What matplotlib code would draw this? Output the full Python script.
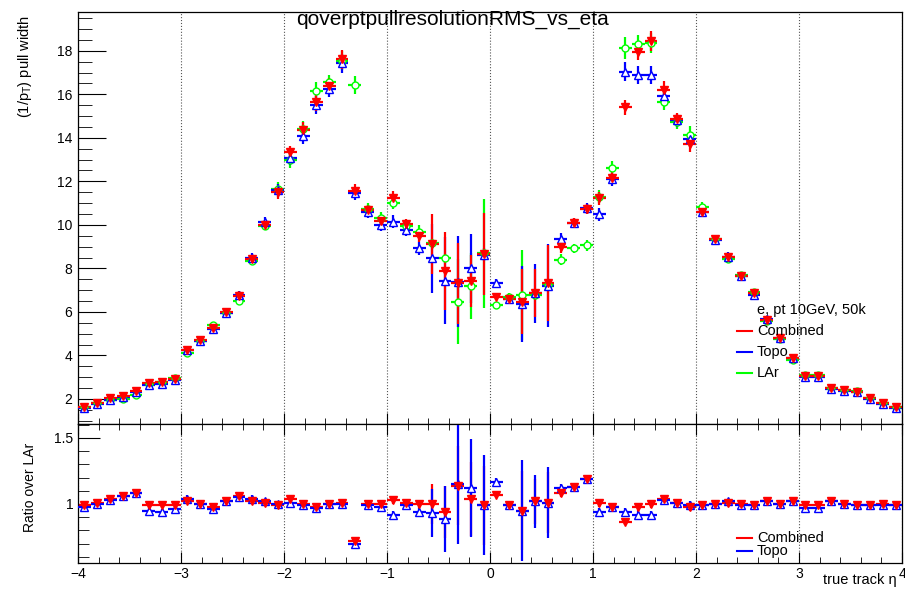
import matplotlib
matplotlib.use("Agg")
import matplotlib.pyplot as plt
from matplotlib.ticker import MultipleLocator, FixedLocator
import numpy as np

plt.rcParams['font.family'] = ['Liberation Sans', 'DejaVu Sans']
plt.rcParams['mathtext.fontset'] = 'custom'
plt.rcParams['mathtext.rm'] = 'Liberation Sans'
plt.rcParams['mathtext.it'] = 'Liberation Sans'

# 64 eta bins from -4 to 4
bin_edges = np.linspace(-4, 4, 65)

combined = [1.65, 1.83, 2.03, 2.15, 2.37, 2.72, 2.80, 2.90,
            4.25, 4.71, 5.25, 6.01, 6.75, 8.43, 9.99, 11.50,
            13.33, 14.36, 15.63, 16.39, 17.60, 11.57, 10.68, 10.18,
            11.25, 10.04, 9.49, 9.12, 7.88, 7.31, 7.43, 8.66,
            6.70, 6.58, 6.47, 6.88, 7.31, 8.97, 10.10, 10.73,
            11.22, 12.17, 15.40, 17.96, 18.46, 16.19, 14.85, 13.70,
            10.60, 9.34, 8.51, 7.66, 6.85, 5.63, 4.79, 3.87,
            3.07, 3.07, 2.52, 2.41, 2.34, 2.06, 1.83, 1.65]
combined_err = [0.06, 0.06, 0.07, 0.07, 0.08, 0.09, 0.09, 0.10,
                0.12, 0.12, 0.15, 0.15, 0.20, 0.20, 0.22, 0.30,
                0.28, 0.35, 0.40, 0.35, 0.45, 0.30, 0.25, 0.25,
                0.30, 0.25, 0.30, 1.40, 1.80, 1.85, 1.20, 1.90,
                0.15, 0.15, 1.50, 1.10, 1.75, 0.25, 0.20, 0.25,
                0.30, 0.30, 0.35, 0.40, 0.45, 0.40, 0.30, 0.35,
                0.25, 0.15, 0.20, 0.15, 0.15, 0.15, 0.12, 0.10,
                0.08, 0.08, 0.07, 0.07, 0.07, 0.06, 0.06, 0.06]

topo = [1.60, 1.78, 1.95, 2.10, 2.30, 2.63, 2.70, 2.85,
        4.27, 4.68, 5.20, 5.97, 6.78, 8.50, 10.15, 11.58,
        13.06, 14.08, 15.50, 16.23, 17.42, 11.45, 10.58, 9.99,
        10.15, 9.76, 8.92, 8.46, 7.43, 7.39, 8.00, 8.63,
        7.34, 6.58, 6.35, 6.85, 7.20, 9.34, 10.10, 10.76,
        10.48, 12.10, 17.04, 16.88, 16.88, 15.92, 14.80, 13.93,
        10.60, 9.32, 8.54, 7.65, 6.78, 5.66, 4.79, 3.87,
        3.03, 3.03, 2.46, 2.37, 2.30, 1.98, 1.78, 1.60]
topo_err = [0.06, 0.06, 0.07, 0.07, 0.08, 0.09, 0.09, 0.10,
            0.12, 0.12, 0.15, 0.15, 0.20, 0.22, 0.22, 0.30,
            0.30, 0.35, 0.40, 0.35, 0.45, 0.30, 0.25, 0.25,
            0.30, 0.25, 0.30, 1.60, 2.00, 2.10, 1.58, 0.30,
            0.15, 0.15, 1.75, 1.35, 1.90, 0.30, 0.20, 0.25,
            0.30, 0.30, 0.45, 0.40, 0.40, 0.40, 0.30, 0.35,
            0.25, 0.15, 0.20, 0.15, 0.15, 0.15, 0.12, 0.10,
            0.08, 0.08, 0.07, 0.07, 0.07, 0.06, 0.06, 0.06]

lar = [1.65, 1.83, 1.95, 2.00, 2.20, 2.70, 2.80, 2.95,
       4.13, 4.68, 5.40, 5.95, 6.52, 8.35, 9.97, 11.65,
       12.98, 14.40, 16.15, 16.55, 17.55, 16.42, 10.75, 10.33,
       11.02, 9.94, 9.69, 9.15, 8.46, 6.47, 7.19, 8.70,
       6.30, 6.70, 6.78, 6.78, 7.24, 8.39, 8.92, 9.07,
       11.30, 12.60, 18.11, 18.31, 18.35, 15.66, 14.72, 14.13,
       10.80, 9.34, 8.45, 7.68, 6.92, 5.56, 4.74, 3.80,
       3.10, 3.10, 2.50, 2.41, 2.37, 2.03, 1.83, 1.65]
lar_err = [0.06, 0.06, 0.07, 0.07, 0.08, 0.09, 0.09, 0.10,
           0.12, 0.12, 0.15, 0.15, 0.20, 0.20, 0.22, 0.30,
           0.38, 0.35, 0.42, 0.35, 0.45, 0.43, 0.25, 0.25,
           0.30, 0.25, 0.30, 0.20, 0.20, 1.95, 1.50, 2.50,
           0.15, 0.15, 2.05, 0.25, 0.25, 0.25, 0.20, 0.25,
           0.30, 0.35, 0.50, 0.40, 0.45, 0.40, 0.30, 0.40,
           0.25, 0.15, 0.20, 0.15, 0.15, 0.15, 0.12, 0.10,
           0.08, 0.08, 0.07, 0.07, 0.07, 0.06, 0.06, 0.06]

# ratio over LAr
ratio_comb = [0.99, 1.01, 1.04, 1.06, 1.08, 0.99, 0.99, 0.99,
              1.02, 1.00, 0.98, 1.02, 1.06, 1.02, 1.01, 0.99,
              1.04, 1.00, 0.98, 1.00, 1.01, 0.72, 1.00, 1.00,
              1.03, 1.01, 1.00, 1.00, 0.94, 1.14, 1.04, 0.99,
              1.07, 0.99, 0.95, 1.02, 1.01, 1.08, 1.13, 1.19,
              1.01, 0.98, 0.86, 0.98, 1.00, 1.04, 1.01, 0.98,
              0.99, 1.00, 1.01, 1.00, 0.99, 1.02, 1.00, 1.02,
              0.99, 0.99, 1.02, 1.00, 0.99, 0.99, 1.00, 0.99]
ratio_comb_err = [0.02, 0.02, 0.02, 0.02, 0.02, 0.02, 0.02, 0.02,
                  0.02, 0.02, 0.02, 0.02, 0.02, 0.02, 0.02, 0.02,
                  0.03, 0.03, 0.03, 0.03, 0.03, 0.02, 0.02, 0.02,
                  0.03, 0.02, 0.03, 0.15, 0.20, 0.30, 0.28, 0.30,
                  0.02, 0.02, 0.30, 0.17, 0.23, 0.03, 0.03, 0.03,
                  0.03, 0.03, 0.02, 0.03, 0.03, 0.03, 0.03, 0.03,
                  0.02, 0.02, 0.02, 0.02, 0.02, 0.02, 0.02, 0.02,
                  0.02, 0.02, 0.02, 0.02, 0.02, 0.02, 0.02, 0.02]

ratio_topo = [0.98, 1.00, 1.03, 1.06, 1.08, 0.95, 0.94, 0.96,
              1.04, 1.00, 0.96, 1.02, 1.05, 1.04, 1.02, 1.00,
              1.01, 0.99, 0.97, 1.00, 1.00, 0.70, 0.99, 0.98,
              0.92, 0.99, 0.94, 0.93, 0.89, 1.15, 1.12, 0.99,
              1.17, 0.99, 0.95, 1.02, 1.01, 1.12, 1.13, 1.19,
              0.94, 0.98, 0.94, 0.92, 0.92, 1.03, 1.01, 0.99,
              0.99, 1.00, 1.02, 0.99, 0.99, 1.02, 1.00, 1.02,
              0.97, 0.97, 1.02, 1.00, 0.99, 0.99, 0.99, 0.99]
ratio_topo_err = [0.02, 0.02, 0.02, 0.02, 0.03, 0.02, 0.02, 0.02,
                  0.03, 0.02, 0.02, 0.02, 0.02, 0.03, 0.02, 0.02,
                  0.03, 0.03, 0.03, 0.03, 0.03, 0.02, 0.02, 0.02,
                  0.03, 0.02, 0.03, 0.18, 0.25, 0.45, 0.37, 0.38,
                  0.03, 0.02, 0.38, 0.20, 0.27, 0.03, 0.03, 0.03,
                  0.03, 0.03, 0.03, 0.03, 0.03, 0.03, 0.03, 0.03,
                  0.02, 0.02, 0.02, 0.02, 0.02, 0.02, 0.02, 0.02,
                  0.02, 0.02, 0.02, 0.02, 0.02, 0.02, 0.02, 0.02]

RED, BLUE, GREEN = '#ff0000', '#0000ff', '#00ff00'

eta = 0.5 * (bin_edges[1:] + bin_edges[:-1])
half_w = 0.5 * (bin_edges[1:] - bin_edges[:-1])

# marker style per series: (marker, size, face)
STYLE = {'lar': ('o', 5.0, 'white'), 'topo': ('^', 6.0, 'white'), 'comb': ('v', 6.0, RED)}


def draw(a, series):
    """series: list of (values, errors, colour, style key, bar zorder, marker zorder)"""
    for vals, errs, col, key, zb, zm in series:
        a.errorbar(eta, vals, yerr=errs, xerr=half_w, fmt='none', ecolor=col,
                   elinewidth=1.6, capsize=0, zorder=zb)
    for vals, errs, col, key, zb, zm in series:
        mk, ms, fc = STYLE[key]
        a.plot(eta, vals, linestyle='none', marker=mk, markersize=ms, markerfacecolor=fc,
               markeredgecolor=col, markeredgewidth=1.0, zorder=zm)


fig = plt.figure(figsize=(9.05, 5.92), dpi=100)
W, H = 905.0, 592.0
ax = fig.add_axes([78 / W, (H - 424) / H, 824 / W, 412 / H])
axr = fig.add_axes([78 / W, (H - 563) / H, 824 / W, 139 / H])

draw(ax, [(lar, lar_err, GREEN, 'lar', 2, 6),
          (topo, topo_err, BLUE, 'topo', 3, 7),
          (combined, combined_err, RED, 'comb', 4, 8)])
draw(axr, [(ratio_comb, ratio_comb_err, RED, 'comb', 2, 8),
           (ratio_topo, ratio_topo_err, BLUE, 'topo', 3, 7)])

for a in (ax, axr):
    a.set_xlim(-4, 4)
    a.xaxis.set_major_locator(MultipleLocator(1))
    a.xaxis.set_minor_locator(MultipleLocator(0.2))
    a.grid(axis='x', which='major', linestyle=':', color='#555555', linewidth=0.8)
    a.set_axisbelow(True)
    for sp in a.spines.values():
        sp.set_linewidth(0.9)

ax.set_ylim(0.85, 19.78)
ax.set_yticks([2, 4, 6, 8, 10, 12, 14, 16, 18])
ax.yaxis.set_minor_locator(MultipleLocator(0.5))
ax.tick_params(axis='y', which='major', direction='in', length=20, labelsize=10, pad=4)
ax.tick_params(axis='y', which='minor', direction='in', length=10)
ax.tick_params(axis='x', which='major', direction='in', length=8, labelbottom=False)
ax.tick_params(axis='x', which='minor', direction='in', length=4)

axr.set_ylim(0.553, 1.606)
axr.yaxis.set_major_locator(FixedLocator([1.0, 1.5]))
axr.yaxis.set_minor_locator(MultipleLocator(0.1))
axr.set_yticklabels(['1', '1.5'])
axr.tick_params(axis='y', which='major', direction='in', length=16, labelsize=10)
axr.tick_params(axis='y', which='minor', direction='in', length=8)
axr.tick_params(axis='x', which='major', direction='in', length=8, labelsize=10, top=True, pad=3)
axr.tick_params(axis='x', which='minor', direction='in', length=4, top=True)

# titles and labels
fig.text(452 / W, 1 - 19 / H, 'qoverptpullresolutionRMS_vs_eta', ha='center', va='center', fontsize=15)
fig.text(25 / W, 1 - 15 / H, r'(1/p$_{\mathrm{T}}$) pull width', rotation=90, ha='center', va='top', fontsize=10.5)
fig.text(30 / W, 1 - 487 / H, 'Ratio over LAr', rotation=90, ha='center', va='center', fontsize=10)
fig.text(897 / W, 1 - 580 / H, 'true track \u03b7', ha='right', va='center', fontsize=10.5)

# legends
ax.text(0.824, 0.276, 'e, pt 10GeV, 50k', transform=ax.transAxes, ha='left', va='center', fontsize=10.5)
for yy, lab, col in [(0.225, 'Combined', RED), (0.174, 'Topo', BLUE), (0.123, 'LAr', GREEN)]:
    ax.plot([0.800, 0.818], [yy, yy], color=col, lw=1.5, transform=ax.transAxes, zorder=10)
    ax.text(0.824, yy, lab, transform=ax.transAxes, ha='left', va='center', fontsize=10.5, zorder=10)
for yy, lab, col in [(0.18, 'Combined', RED), (0.085, 'Topo', BLUE)]:
    axr.plot([0.800, 0.818], [yy, yy], color=col, lw=1.5, transform=axr.transAxes, zorder=10)
    axr.text(0.824, yy, lab, transform=axr.transAxes, ha='left', va='center', fontsize=10.5, zorder=10)

fig.savefig('out.png', dpi=100)
